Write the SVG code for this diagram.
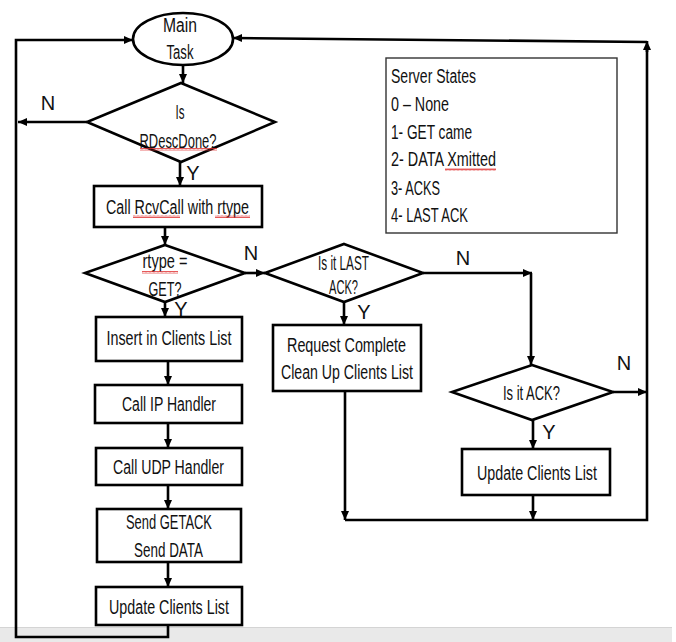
<svg xmlns="http://www.w3.org/2000/svg" width="676" height="642" viewBox="0 0 676 642">
  <defs>
    <marker id="arr" markerUnits="userSpaceOnUse" markerWidth="10" markerHeight="10" refX="9" refY="5" orient="auto">
      <path d="M0,1 L9,5 L0,9 Z" fill="#000"/>
    </marker>
    <pattern id="squig" width="4" height="3" patternUnits="userSpaceOnUse">
      <path d="M0,2.5 L1,0.5 L2,2.5 L3,0.5 L4,2.5" fill="none" stroke="#e03030" stroke-width="0.8"/>
    </pattern>
    <style>
      .shape { fill: #fff; stroke: #000; stroke-width: 2.6; }
      .legend { fill: #fff; stroke: #333; stroke-width: 1.4; }
      .line { fill: none; stroke: #000; stroke-width: 2.6; }
      .t { font-family: "Liberation Sans", Arial, sans-serif; font-size: 20px; fill: #111; text-anchor: middle; }
      .l { text-anchor: start; }
      .sq { fill: url(#squig); }
    </style>
  </defs>

  <rect x="0" y="627" width="672" height="15" fill="#e9e9e9"/>
  <line x1="0" y1="627.5" x2="672" y2="627.5" stroke="#d4d4d4" stroke-width="1"/>

  <!-- connectors -->
  <g id="connectors">
    <path class="line" d="M183,65 V83" marker-end="url(#arr)"/>
    <path class="line" d="M87,122 H18" marker-end="url(#arr)"/>
    <path class="line" d="M180,162 V186" marker-end="url(#arr)"/>
    <path class="line" d="M165,227 V245" marker-end="url(#arr)"/>
    <path class="line" d="M245,273 H265" marker-end="url(#arr)"/>
    <path class="line" d="M165,302 V317" marker-end="url(#arr)"/>
    <path class="line" d="M168,361 V385" marker-end="url(#arr)"/>
    <path class="line" d="M168,423 V448" marker-end="url(#arr)"/>
    <path class="line" d="M168,485 V509" marker-end="url(#arr)"/>
    <path class="line" d="M168,562 V587" marker-end="url(#arr)"/>
    <path class="line" d="M168,625 V637 H16 V40 H133" marker-end="url(#arr)"/>
    <path class="line" d="M344,302 V325" marker-end="url(#arr)"/>
    <path class="line" d="M423,273 H532" marker-end="url(#arr)"/>
    <path class="line" d="M531,273 V365" marker-end="url(#arr)"/>
    <path class="line" d="M613,392 H647" marker-end="url(#arr)"/>
    <path class="line" d="M533,420 V449" marker-end="url(#arr)"/>
    <path class="line" d="M345,391 V520" marker-end="url(#arr)"/>
    <path class="line" d="M533,495 V520" marker-end="url(#arr)"/>
    <path class="line" d="M345,520 H647 V50"/>
    <path class="line" d="M647,52 V41" marker-end="url(#arr)"/>
    <path class="line" d="M647,42 L233,38" marker-end="url(#arr)"/>
    <text class="t" x="48" y="110">N</text>
    <text class="t" x="193" y="180">Y</text>
    <text class="t" x="251" y="260">N</text>
    <text class="t" x="181" y="316">Y</text>
    <text class="t" x="364" y="319">Y</text>
    <text class="t" x="463" y="265">N</text>
    <text class="t" x="624" y="370">N</text>
    <text class="t" x="549" y="439">Y</text>
  </g>

  <g id="main-task">
    <ellipse class="shape" cx="183" cy="39" rx="50" ry="26"/>
    <text class="t" x="180" y="32" textLength="34" lengthAdjust="spacingAndGlyphs">Main</text>
    <text class="t" x="180" y="59" textLength="27" lengthAdjust="spacingAndGlyphs">Task</text>
  </g>

  <g id="rdesc-done">
    <polygon class="shape" points="181,83 275,122 181,162 87,122"/>
    <text class="t" x="180" y="119" textLength="9" lengthAdjust="spacingAndGlyphs">Is</text>
    <text class="t" x="178" y="148" textLength="77" lengthAdjust="spacingAndGlyphs">RDescDone?</text>
    <rect class="sq" x="140" y="148" width="77" height="3"/>
  </g>

  <g id="rcvcall">
    <rect class="shape" x="94" y="186" width="168" height="41"/>
    <text class="t" x="177.5" y="214" textLength="143" lengthAdjust="spacingAndGlyphs">Call RcvCall with rtype</text>
    <rect class="sq" x="133" y="215" width="47" height="3"/>
    <rect class="sq" x="215" y="215" width="35" height="3"/>
  </g>

  <g id="rtype-get">
    <polygon class="shape" points="165,245 245,273 165,302 85,273"/>
    <text class="t" x="165" y="268" textLength="45" lengthAdjust="spacingAndGlyphs">rtype =</text>
    <rect class="sq" x="142" y="271" width="36" height="3"/>
    <text class="t" x="165" y="296" textLength="33" lengthAdjust="spacingAndGlyphs">GET?</text>
  </g>

  <g id="insert-clients">
    <rect class="shape" x="96" y="317" width="146" height="44"/>
    <text class="t" x="169" y="345" textLength="125" lengthAdjust="spacingAndGlyphs">Insert in Clients List</text>
  </g>

  <g id="ip-handler">
    <rect class="shape" x="95" y="385" width="147" height="38"/>
    <text class="t" x="169" y="411" textLength="94" lengthAdjust="spacingAndGlyphs">Call IP Handler</text>
  </g>

  <g id="udp-handler">
    <rect class="shape" x="96" y="448" width="146" height="37"/>
    <text class="t" x="168.5" y="474" textLength="111" lengthAdjust="spacingAndGlyphs">Call UDP Handler</text>
  </g>

  <g id="send-data">
    <rect class="shape" x="97" y="509" width="144" height="53"/>
    <text class="t" x="169" y="529" textLength="86" lengthAdjust="spacingAndGlyphs">Send GETACK</text>
    <text class="t" x="168.5" y="557" textLength="69" lengthAdjust="spacingAndGlyphs">Send DATA</text>
  </g>

  <g id="update-clients-left">
    <rect class="shape" x="96" y="587" width="146" height="38"/>
    <text class="t" x="169" y="614" textLength="120" lengthAdjust="spacingAndGlyphs">Update Clients List</text>
  </g>

  <g id="last-ack">
    <polygon class="shape" points="344,244 423,273 344,302 265,273"/>
    <text class="t" x="343.5" y="270" textLength="51" lengthAdjust="spacingAndGlyphs">Is it LAST</text>
    <text class="t" x="343.5" y="294" textLength="29" lengthAdjust="spacingAndGlyphs">ACK?</text>
  </g>

  <g id="request-complete">
    <rect class="shape" x="273" y="325" width="148" height="66"/>
    <text class="t" x="346.5" y="352" textLength="119" lengthAdjust="spacingAndGlyphs">Request Complete</text>
    <text class="t" x="347" y="379" textLength="132" lengthAdjust="spacingAndGlyphs">Clean Up Clients List</text>
  </g>

  <g id="is-ack">
    <polygon class="shape" points="532,365 613,392 532,420 452,392"/>
    <text class="t" x="531.5" y="400" textLength="57" lengthAdjust="spacingAndGlyphs">Is it ACK?</text>
  </g>

  <g id="update-clients-right">
    <rect class="shape" x="462" y="449" width="148" height="46"/>
    <text class="t" x="537" y="480" textLength="120" lengthAdjust="spacingAndGlyphs">Update Clients List</text>
  </g>

  <g id="server-states">
    <rect class="legend" x="386" y="58" width="231" height="175"/>
    <text class="t l" x="391" y="83" textLength="85" lengthAdjust="spacingAndGlyphs">Server States</text>
    <text class="t l" x="391" y="111" textLength="58" lengthAdjust="spacingAndGlyphs">0 – None</text>
    <text class="t l" x="391" y="139" textLength="81" lengthAdjust="spacingAndGlyphs">1- GET came</text>
    <text class="t l" x="391" y="166" textLength="105" lengthAdjust="spacingAndGlyphs">2- DATA Xmitted</text>
    <rect class="sq" x="445" y="168" width="51" height="3"/>
    <text class="t l" x="391" y="195" textLength="49" lengthAdjust="spacingAndGlyphs">3- ACKS</text>
    <text class="t l" x="391" y="222" textLength="77" lengthAdjust="spacingAndGlyphs">4- LAST ACK</text>
  </g>
</svg>
